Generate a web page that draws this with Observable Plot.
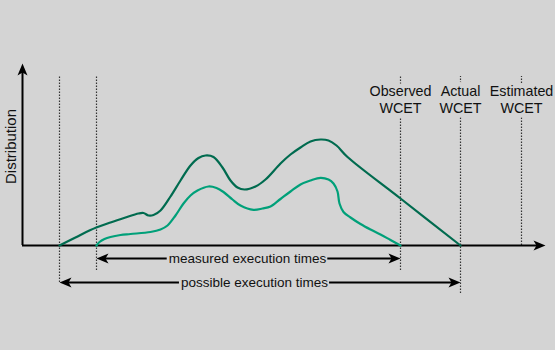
<!DOCTYPE html>
<html>
<head>
<meta charset="utf-8">
<script src="https://cdn.jsdelivr.net/npm/d3@7"></script>
<script src="https://cdn.jsdelivr.net/npm/@observablehq/plot@0.6"></script>
<style>
  html, body { margin: 0; padding: 0; background: #d4d4d4; }
  #chart { width: 555px; height: 350px; }
</style>
</head>
<body>
<div id="chart"></div>
<script>
// ---- Data (arbitrary units: x = execution time, y = distribution) ----
const bg = "#d4d4d4";
const darkColor = "#006b4f";
const lightColor = "#00a079";

// possible execution-time distribution (dark curve)
const darkX = [37, 53, 68, 88, 103, 116, 121, 126, 131, 138, 148, 158, 168, 176, 183, 191, 200, 208, 215, 222, 233, 243, 258, 268, 278, 288, 298, 306, 314, 325, 378, 438];
const darkY = [0, 8, 15.5, 23, 28, 32, 32.5, 30, 30.5, 35, 49, 65, 80, 87.5, 90, 88.5, 78, 65, 58, 56, 59, 66, 82, 91, 98, 104, 106, 105, 100, 88.5, 47, 0];

// measured execution-time distribution (light curve)
const lightX = [74, 77, 82, 88, 98, 108, 128, 138, 145, 153, 161, 168, 175, 186, 194, 201, 210, 218, 231, 240, 248, 258, 268, 278, 288, 298, 306, 311, 315, 317, 321, 328, 338, 348, 358, 368, 378];
const lightY = [0, 3.5, 6.5, 8.5, 10.5, 11.5, 13.5, 16, 20, 30, 42, 50, 55, 59, 57.5, 53.5, 46, 40, 35.7, 37, 39, 46.5, 54, 61, 65, 67.7, 66, 62, 54, 42, 33.5, 28, 21.5, 16, 11, 5.5, 0];

// vertical markers
const markerNames = ["bcet", "bcetObs", "Observed\nWCET", "Actual\nWCET", "Estimated\nWCET"];
const markerX = [37, 74, 378, 438, 499];
const markerBottom = [-37, -25, -25, -48, 0];
const markerTop = 169;

// range arrows
const rangeLabels = ["measured execution times", "possible execution times"];
const rangeStart = [74, 37];
const rangeEnd = [378, 438];
const rangeLevel = [-13, -37];
const rangeLabelX = [225, 232];

// axes extents
const xAxisEnd = 523;
const yAxisEnd = 182;

// ---- Build tables ----
const font = "'Liberation Sans', Arial, Helvetica, sans-serif";
const rangeFontSize = 13.5;
const ctx2d = document.createElement("canvas").getContext("2d");
ctx2d.font = `${rangeFontSize}px ${font}`;

const dark = darkX.map((x, i) => ({x, y: darkY[i]}));
const light = lightX.map((x, i) => ({x, y: lightY[i]}));
const markers = markerX.map((x, i) => ({x, name: markerNames[i], bottom: markerBottom[i]}));
const ranges = rangeLabels.map((label, i) => ({label, x1: rangeStart[i], x2: rangeEnd[i], y: rangeLevel[i], lx: rangeLabelX[i], w: ctx2d.measureText(label).width}));
// line segments either side of each label (1 unit = 1 px)
const rangeSegs = ranges.flatMap(r => [
  {y: r.y, a: r.x1 + 4, b: r.lx - r.w / 2 - 1.5},
  {y: r.y, a: r.lx + r.w / 2 + 1.5, b: r.x2 - 4}
]);
const heads = [
  {x: xAxisEnd, y: 0, rotate: 0},
  {x: 0, y: yAxisEnd, rotate: -90},
  ...ranges.flatMap(r => [{x: r.x1, y: r.y, rotate: 180}, {x: r.x2, y: r.y, rotate: 0}])
];

const arrowHead = {
  draw(ctx) {
    ctx.moveTo(0, 0);
    ctx.lineTo(-12, -5);
    ctx.lineTo(-9, 0);
    ctx.lineTo(-12, 5);
    ctx.closePath();
  }
};

const chart = Plot.plot({
  width: 555,
  height: 350,
  marginTop: 0, marginRight: 0, marginBottom: 0, marginLeft: 0,
  style: {background: bg, fontFamily: font},
  x: {type: "linear", domain: [-22, 533], range: [0, 555], axis: null},
  y: {type: "linear", domain: [-105, 245], range: [350, 0], axis: null},
  marks: [
    // dotted vertical markers
    Plot.ruleX(markers, {x: "x", y1: "bottom", y2: markerTop, stroke: "#333", strokeWidth: 1.2, strokeDasharray: "1.5,1.5"}),
    // axes
    Plot.ruleY([0], {x1: 0, x2: xAxisEnd - 4, stroke: "black", strokeWidth: 2}),
    Plot.ruleX([0], {y1: 0, y2: yAxisEnd - 4, stroke: "black", strokeWidth: 2}),
    // range arrows (broken around labels)
    Plot.ruleY(rangeSegs, {y: "y", x1: "a", x2: "b", stroke: "black", strokeWidth: 2}),
    // curves
    Plot.line(dark, {x: "x", y: "y", curve: "catmull-rom", stroke: darkColor, strokeWidth: 2.2}),
    Plot.line(light, {x: "x", y: "y", curve: "catmull-rom", stroke: lightColor, strokeWidth: 2.2}),
    // arrowheads
    Plot.dot(heads, {x: "x", y: "y", rotate: "rotate", symbol: arrowHead, fill: "black", stroke: "none"}),
    // range labels
    Plot.text(ranges, {x: "lx", y: "y", text: "label", fontSize: rangeFontSize, fill: "#111", fontFamily: font}),
    // WCET labels
    Plot.text(markers.slice(2), {x: "x", y: 146.5, text: "name", fontSize: 14.3, lineHeight: 1.2, lineAnchor: "middle", fill: "#111", stroke: bg, strokeWidth: 9, paintOrder: "stroke", fontFamily: font}),
    // y label
    Plot.text(["Distribution"], {x: -11, y: 99, text: d => d, rotate: -90, fontSize: 15, fill: "#111", fontFamily: font})
  ]
});
document.getElementById("chart").append(chart);
</script>
</body>
</html>
